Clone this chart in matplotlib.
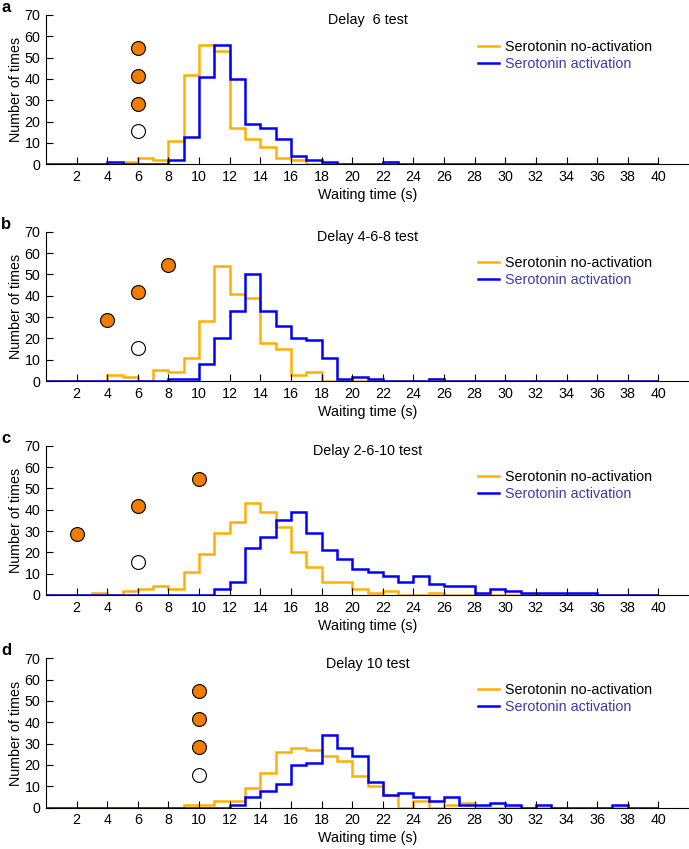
import matplotlib
matplotlib.use('Agg')
import matplotlib.pyplot as plt
import numpy as np

plt.rcParams['font.family'] = ['Liberation Sans', 'DejaVu Sans']

# 1 s bins, 0..40 s
edges = np.arange(41)

titles = ['Delay  6 test', 'Delay 4-6-8 test', 'Delay 2-6-10 test', 'Delay 10 test']
letters = ['a', 'b', 'c', 'd']

# counts per bin, no-activation (orange) and activation (blue)
a_off = [0,0,0,0,0,1,3,2,11,42, 56,53,17,12,8,3,2,0,0,0, 0,0,1,0,0,0,0,0,0,0, 0,0,0,0,0,0,0,0,0,0]
a_on  = [0,0,0,0,1,0,0,0,2,13, 41,56,40,19,17,12,4,2,1,0, 0,0,1,0,0,0,0,0,0,0, 0,0,0,0,0,0,0,0,0,0]
b_off = [0,0,0,0,3,2,0,5,4,11, 28,54,41,39,18,15,3,4,0,0, 0,0,0,0,0,1,0,0,0,0, 0,0,0,0,0,0,0,0,0,0]
b_on  = [0,0,0,0,0,0,0,0,1,1, 8,20,33,50,33,26,20,19,11,1, 2,1,0,0,0,1,0,0,0,0, 0,0,0,0,0,0,0,0,0,0]
c_off = [0,0,0,1,0,2,3,4,3,11, 19,29,34,43,39,32,20,13,6,6, 3,1,2,0,0,1,0,0,0,0, 0,0,0,0,0,0,0,0,0,0]
c_on  = [0,0,0,0,0,0,0,0,0,0, 0,3,6,22,27,35,39,29,21,17, 12,11,9,6,9,5,4,4,1,3, 2,1,1,1,1,1,0,0,0,0]
d_off = [0,0,0,0,0,0,0,0,0,1, 1,3,3,9,16,26,28,27,24,22, 15,10,6,0,3,0,1,2,0,0, 0,0,0,0,0,0,0,0,0,0]
d_on  = [0,0,0,0,0,0,0,0,0,0, 0,0,1,5,8,11,20,21,34,28, 24,12,6,7,5,3,5,1,1,2, 1,0,1,0,0,0,0,1,0,0]

# cue dots (trained delays) and probe dot
cue_y = [28.5, 41.5, 54.5]
cue_x = [[6, 6, 6], [4, 6, 8], [2, 6, 10], [10, 10, 10]]
probe_x = [6, 6, 6, 10]
probe_y = 15.5

off_data = [a_off, b_off, c_off, d_off]
on_data = [a_on, b_on, c_on, d_on]

ORANGE = '#FFB000'
BLUE = '#0000FF'
DOT = '#F07D00'

W, H = 689, 849
fig = plt.figure(figsize=(W / 100, H / 100), dpi=100)

tops = [15, 231.7, 445.7, 658.3]   # pixel y of the 70 level
ax_h = 149.3
left_px = 46
fs = 10.3

for i in range(4):
    bottom = 1 - (tops[i] + ax_h) / H
    ax = fig.add_axes([left_px / W, bottom, (W - left_px) / W, ax_h / H])
    ax.stairs(off_data[i], edges, color=ORANGE, lw=1.8, label='Serotonin no-activation')
    ax.stairs(on_data[i], edges, color=BLUE, lw=1.8, label='Serotonin activation')
    ax.plot(cue_x[i], cue_y, 'o', ms=10, mfc=DOT, mec='black', mew=0.8, clip_on=False)
    ax.plot([probe_x[i]], [probe_y], 'o', ms=10, mfc='white', mec='black', mew=0.8, clip_on=False)

    ax.set_xlim(0, 42)
    ax.set_ylim(0, 70)
    ax.set_xticks(np.arange(2, 41, 2))
    ax.set_yticks(np.arange(0, 71, 10))
    ax.spines['top'].set_visible(False)
    ax.spines['right'].set_visible(False)
    ax.tick_params(direction='in', length=5, width=0.8, labelsize=fs, pad=4)
    ax.set_xlabel('Waiting time (s)', fontsize=fs, labelpad=3)
    ax.set_ylabel('Number of times', fontsize=fs, labelpad=1)
    ax.text(0.5, 67.5, titles[i], transform=ax.get_yaxis_transform(), ha='center', va='center', fontsize=fs)

    leg = ax.legend(loc='upper left', bbox_to_anchor=(0.672, 0.835), frameon=False,
                    fontsize=fs, handlelength=1.45, handletextpad=0.45, labelspacing=0.22,
                    borderaxespad=0, borderpad=0)
    leg.get_texts()[1].set_color('#3c3ca8')

    fig.text(0.002, 1 - (tops[i] - 3) / H, letters[i], fontsize=12, fontweight='bold',
             ha='left', va='baseline')

fig.savefig('out.png', dpi=100)
